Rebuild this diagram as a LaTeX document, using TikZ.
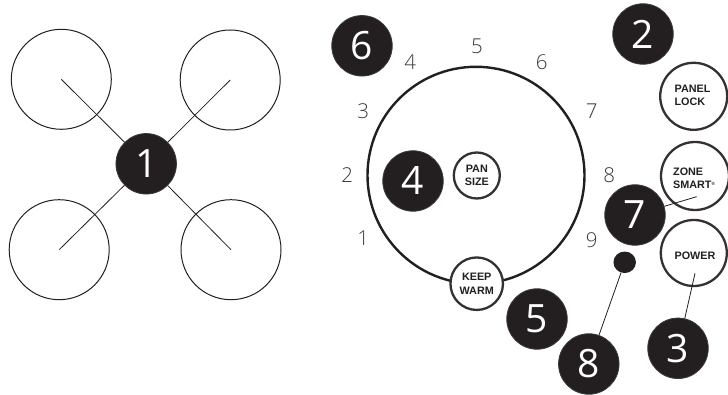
\documentclass[tikz,border=0pt]{standalone}
\usepackage{fontspec}
\usetikzlibrary{shapes.geometric}
\setmainfont{Open Sans Light}
\newfontfamily\badgefont{Open Sans}
\newfontfamily\lblfont{Liberation Sans}[Ligatures=TeX]
\definecolor{ink}{HTML}{231F20}
\definecolor{dig}{HTML}{3A3A3C}
\tikzset{
  badge/.style={circle,fill=ink,draw=ink!88!white,line width=0.8pt,minimum size=60.5pt,inner sep=0pt,text=white,font=\badgefont\fontsize{39}{39}\selectfont},
  ring/.style={circle,draw=ink,line width=1pt,minimum size=100pt,inner sep=0pt},
  btn/.style={circle,draw=ink!92!white,fill=white,line width=2.3pt,inner sep=0pt,align=center,text=ink,font=\lblfont\bfseries\fontsize{10.8}{13.3}\selectfont},
  btntext/.style={inner sep=0pt,align=left,text=ink,font=\lblfont\bfseries\fontsize{10.8}{13.3}\selectfont},
  tick/.style={text=dig,inner sep=0pt,font=\fontsize{20.5}{20.5}\selectfont},
  thinline/.style={draw=ink,line width=0.8pt}
}
\begin{document}
\begin{tikzpicture}[x=1pt,y=-1pt]
\useasboundingbox (0,0) rectangle (728,395);
% left group
\node[ring] (tl) at (61.3,79.3) {};
\node[ring] (tr) at (230.2,80) {};
\node[ring] (bl) at (59.2,249.7) {};
\node[ring] (br) at (231,249.7) {};
\node[badge] (b1) at (146.2,163.8) {1};
\draw[thinline] (b1) -- (tl.center);
\draw[thinline] (b1) -- (tr.center);
\draw[thinline] (b1) -- (bl.center);
\draw[thinline] (b1) -- (br.center);
% dial
\node[circle,draw=ink,line width=2.4pt,minimum size=217pt,inner sep=0pt] (dial) at (476,175.3) {};
\node[btn,minimum size=46pt] (pan) at (476.8,175.5) {PAN\\SIZE};
\node[btn,minimum size=52.5pt] (keep) at (476.7,283.7) {KEEP\\WARM};
\node[tick] (t1) at (363.3,238) {1};
\node[tick] (t2) at (347.3,175) {2};
\node[tick] (t3) at (363.3,111) {3};
\node[tick] (t4) at (410.3,61.7) {4};
\node[tick] (t5) at (477,46) {5};
\node[tick] (t6) at (541.7,62.3) {6};
\node[tick] (t7) at (591.7,110.7) {7};
\node[tick] (t8) at (609.3,175) {8};
\node[tick] (t9) at (591.7,240) {9};
% right buttons
\node[btn,minimum size=67pt] (lock) at (693.7,96.3) {};
\node[btntext] (locktext) at (692.5,95.4) {PANEL\\LOCK};
\node[btn,minimum size=68pt] (zone) at (695,176) {};
\node[btntext] (zonetext) at (694,178.3) {ZONE\\SMART\raisebox{3.5pt}{\fontsize{4.5}{5}\selectfont\textregistered}};
\node[btn,minimum size=66pt] (power) at (693.8,253) {};
\node[btntext] (powertext) at (695,256) {POWER};
\coordinate (zoneEnd) at (696.7,196.7);
\coordinate (powerEnd) at (695,273.3);
\node[badge] (b2) at (643,34) {2};
\node[badge] (b3) at (678,348.3) {3};
\node[badge] (b4) at (413,181) {4};
\node[badge] (b5) at (537,319) {5};
\node[badge] (b6) at (362,45.8) {6};
\node[badge] (b7) at (635,215) {7};
\node[badge] (b8) at (588.8,364) {8};
\node[ellipse,fill=ink,minimum width=22.5pt,minimum height=21.5pt,inner sep=0pt] (dot) at (624.7,262.3) {};
\draw[thinline] (b7) -- (zoneEnd);
\draw[thinline] (b3) -- (powerEnd);
\draw[thinline] (b8) -- (dot);
\end{tikzpicture}
\end{document}
